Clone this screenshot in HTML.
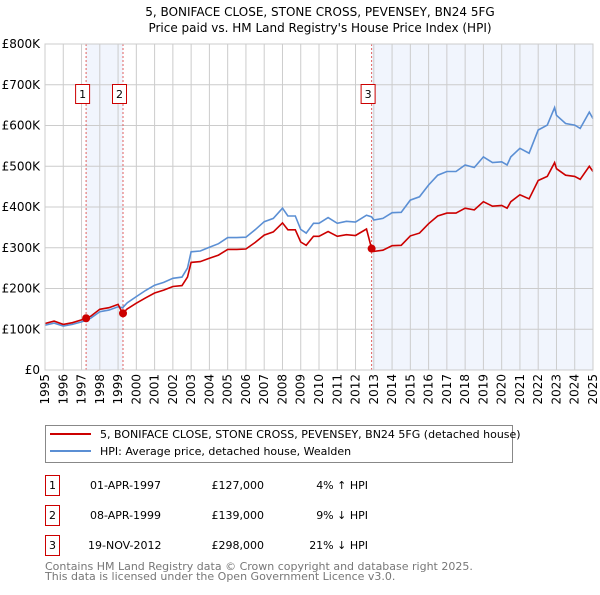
<!DOCTYPE html>
<html><head><meta charset="utf-8"><style>
body{margin:0;background:#fff;width:600px;height:590px;overflow:hidden}
svg{font-family:"DejaVu Sans","Liberation Sans",sans-serif}
</style></head><body>
<svg id="chart" width="600" height="590" viewBox="0 0 600 590" xmlns="http://www.w3.org/2000/svg">
<text x="320" y="16" text-anchor="middle" font-size="12">5, BONIFACE CLOSE, STONE CROSS, PEVENSEY, BN24 5FG</text>
<text x="320" y="32" text-anchor="middle" font-size="12">Price paid vs. HM Land Registry's House Price Index (HPI)</text>
<g id="plot"></g>
<g>
<rect x="45.5" y="425.5" width="467" height="37" fill="#fff" stroke="#888"/>
<line x1="50" y1="434" x2="91" y2="434" stroke="#cc0000" stroke-width="2"/>
<text x="100" y="438" font-size="11">5, BONIFACE CLOSE, STONE CROSS, PEVENSEY, BN24 5FG (detached house)</text>
<line x1="50" y1="451" x2="91" y2="451" stroke="#5b8fd4" stroke-width="2"/>
<text x="100" y="455" font-size="11">HPI: Average price, detached house, Wealden</text>
</g>
<g font-size="11">
<rect x="45.5" y="475.5" width="14" height="20" fill="#fff" stroke="#cc0000"/><text x="52.5" y="489" text-anchor="middle">1</text>
<text x="90" y="489">01-APR-1997</text><text x="264" y="489" text-anchor="end">£127,000</text><text x="368" y="489" text-anchor="end">4% ↑ HPI</text>
<rect x="45.5" y="505.5" width="14" height="20" fill="#fff" stroke="#cc0000"/><text x="52.5" y="519" text-anchor="middle">2</text>
<text x="90" y="519">08-APR-1999</text><text x="264" y="519" text-anchor="end">£139,000</text><text x="368" y="519" text-anchor="end">9% ↓ HPI</text>
<rect x="45.5" y="535.5" width="14" height="20" fill="#fff" stroke="#cc0000"/><text x="52.5" y="549" text-anchor="middle">3</text>
<text x="88" y="549">19-NOV-2012</text><text x="264" y="549" text-anchor="end">£298,000</text><text x="368" y="549" text-anchor="end">21% ↓ HPI</text>
</g>
<text x="45" y="570" font-size="11" fill="#777">Contains HM Land Registry data © Crown copyright and database right 2025.</text>
<text x="45" y="580" font-size="11" fill="#777">This data is licensed under the Open Government Licence v3.0.</text>
</svg>
<script>
const years=[1995,1995.5,1996,1996.5,1997,1997.25,1997.5,1998,1998.5,1999,1999.25,1999.5,2000,2000.5,2001,2001.5,2002,2002.5,2002.8,2003,2003.5,2004,2004.5,2005,2005.5,2006,2006.5,2007,2007.5,2008,2008.3,2008.7,2009,2009.3,2009.7,2010,2010.5,2011,2011.5,2012,2012.6,2012.88,2013,2013.5,2014,2014.5,2015,2015.5,2016,2016.5,2017,2017.5,2018,2018.5,2019,2019.5,2020,2020.3,2020.5,2021,2021.5,2022,2022.5,2022.9,2023,2023.5,2024,2024.3,2024.8,2025];
const hpiValues=[110,115,108,112,118,122,127,143,147,155,153,165,180,195,208,215,225,228,250,290,292,301,310,325,325,326,344,364,372,397,378,378,345,336,360,360,374,360,365,363,380,376,368,372,386,387,417,425,454,478,487,487,503,497,523,509,511,503,523,544,532,589,601,644,625,605,601,593,633,617];
const priceValues=[114,120,112,116,123,127,132,149,153,161,139,150,164,177,189,196,205,207,228,264,266,274,282,296,296,297,313,331,339,361,344,344,314,306,328,328,340,328,332,330,346,298,291,294,305,306,329,336,359,378,385,385,397,393,413,402,404,397,413,430,420,465,475,509,494,478,475,468,500,487];
const saleDates=[1997.25,1999.27,2012.88];
const salePrices=[127,139,298];
const saleLabels=["1","2","3"];
const yTicks=[0,100,200,300,400,500,600,700,800];
const yTickLabels=["£0","£100K","£200K","£300K","£400K","£500K","£600K","£700K","£800K"];
const xTicks=[1995,1996,1997,1998,1999,2000,2001,2002,2003,2004,2005,2006,2007,2008,2009,2010,2011,2012,2013,2014,2015,2016,2017,2018,2019,2020,2021,2022,2023,2024,2025];

const X0=45,X1=593,Y0=370,Y1=44;
const xs=v=>X0+(v-1995)/30*(X1-X0);
const ys=v=>Y0-v/800*(Y0-Y1);
const NS="http://www.w3.org/2000/svg";
const g=document.getElementById('plot');
function mk(t,a){const e=document.createElementNS(NS,t);for(const k in a)e.setAttribute(k,a[k]);g.appendChild(e);return e;}
let s1=mk('rect',{x:xs(saleDates[0]),y:Y1,width:xs(saleDates[1])-xs(saleDates[0]),height:Y0-Y1,fill:'#eef3fc',opacity:0.8});


let s2=mk('rect',{x:xs(saleDates[2]),y:Y1,width:X1-xs(saleDates[2]),height:Y0-Y1,fill:'#eef3fc',opacity:0.8});


yTicks.forEach((v,i)=>{
 let l=mk('line',{x1:X0,x2:X1,y1:ys(v),y2:ys(v),stroke:'#ccc'});
 
 
 let t=mk('text',{x:40,y:ys(v)+4,'text-anchor':'end','font-size':12});
 
 
 t.textContent=yTickLabels[i];
});
xTicks.forEach(v=>{
 let l=mk('line',{x1:xs(v),x2:xs(v),y1:Y1,y2:Y0,stroke:'#ccc'});
 
 
 let t=mk('text',{x:0,y:0,'text-anchor':'end','font-size':12,transform:`translate(${xs(v)+4},374) rotate(-90)`});
 
 
 t.textContent=v;
});
saleDates.forEach((d,i)=>{
 let l=mk('line',{x1:xs(d),x2:xs(d),y1:Y1,y2:Y0,stroke:'#e06060','stroke-dasharray':'2,2'});
 
 
 let r=mk('rect',{x:xs(d)-10.5,y:84.5,width:14,height:19,fill:'#fff',stroke:'#cc0000'});
 
 
 let t=mk('text',{x:xs(d)-3.5,y:98,'text-anchor':'middle','font-size':11});
 
 
 t.textContent=saleLabels[i];
});
function path(vals){return vals.map((v,i)=>(i?'L':'M')+xs(years[i]).toFixed(1)+','+ys(v).toFixed(1)).join('');}
let hp=mk('path',{d:path(hpiValues),fill:'none',stroke:'#5b8fd4','stroke-width':1.6});


let pp=mk('path',{d:path(priceValues),fill:'none',stroke:'#cc0000','stroke-width':1.6});


saleDates.forEach((d,i)=>{
 let c=mk('circle',{cx:xs(d),cy:ys(salePrices[i]),r:4,fill:'#cc0000'});
 
 
});
let ax=mk('rect',{x:X0,y:Y1,width:X1-X0,height:Y0-Y1,fill:'none',stroke:'#ccc'});


</script>
</body></html>
